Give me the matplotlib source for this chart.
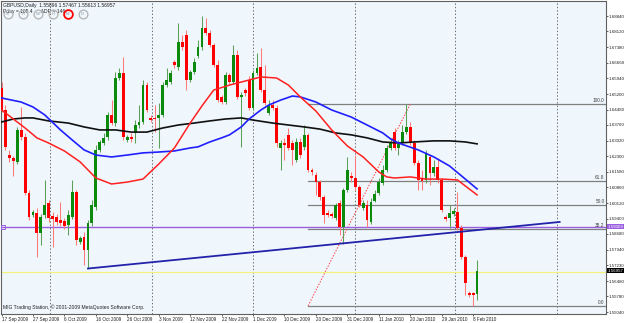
import numpy as np
import matplotlib
matplotlib.use("Agg")
import matplotlib.pyplot as plt
import matplotlib.transforms as mtransforms

# GBPUSD daily, one bar per entry (bar index 0 = 17 Sep 2009)
opens = [1.6548, 1.6446, 1.6236, 1.6222, 1.6204, 1.6353, 1.6320, 1.6059, 1.5957, 1.5966,
         1.5873, 1.5957, 1.6013, 1.5952, 1.5947, 1.5933, 1.5929, 1.5910, 1.5947, 1.6064,
         1.5831, 1.5854, 1.5794, 1.5919, 1.5994, 1.6260, 1.6292, 1.6320, 1.6423, 1.6385,
         1.6595, 1.6618, 1.6306, 1.6320, 1.6339, 1.6376, 1.6390, 1.6562, 1.6409, 1.6409,
         1.6409, 1.6423, 1.6562, 1.6576, 1.6670, 1.6646, 1.6763, 1.6796, 1.6586, 1.6623,
         1.6698, 1.6740, 1.6828, 1.6805, 1.6749, 1.6656, 1.6507, 1.6483, 1.6609, 1.6576,
         1.6702, 1.6507, 1.6539, 1.6586, 1.6455, 1.6618, 1.6646, 1.6539, 1.6432, 1.6469,
         1.6455, 1.6269, 1.6292, 1.6330, 1.6292, 1.6213, 1.6297, 1.6274, 1.6330, 1.6166,
         1.6143, 1.6110, 1.6041, 1.5966, 1.5961, 1.5943, 1.6013, 1.5901, 1.6073, 1.6138,
         1.6129, 1.6087, 1.5989, 1.6003, 1.5924, 1.6022, 1.6059, 1.6106, 1.6166, 1.6269,
         1.6343, 1.6269, 1.6292, 1.6343, 1.6367, 1.6292, 1.6199, 1.6129, 1.6120, 1.6227,
         1.6152, 1.6180, 1.6120, 1.5947, 1.5943, 1.5961, 1.5971, 1.5896, 1.5761, 1.5593,
         1.5593, 1.55896]
highs = [1.6576, 1.6469, 1.6260, 1.6232, 1.6367, 1.6460, 1.6339, 1.6073, 1.5980, 1.5989,
         1.5961, 1.6120, 1.6027, 1.5971, 1.5961, 1.6017, 1.5943, 1.5980, 1.6120, 1.6073,
         1.5859, 1.5878, 1.5933, 1.6027, 1.6283, 1.6306, 1.6339, 1.6437, 1.6492, 1.6623,
         1.6642, 1.6693, 1.6330, 1.6339, 1.6399, 1.6469, 1.6586, 1.6576, 1.6423, 1.6469,
         1.6479, 1.6576, 1.6642, 1.6632, 1.6679, 1.6851, 1.6796, 1.6819, 1.6632, 1.6688,
         1.6772, 1.6884, 1.6875, 1.6819, 1.6758, 1.6679, 1.6516, 1.6623, 1.6618, 1.6749,
         1.6726, 1.6530, 1.6548, 1.6604, 1.6632, 1.6712, 1.6735, 1.6656, 1.6492, 1.6492,
         1.6469, 1.6306, 1.6316, 1.6362, 1.6306, 1.6316, 1.6316, 1.6376, 1.6339, 1.6176,
         1.6157, 1.6120, 1.6050, 1.5980, 1.5971, 1.6013, 1.6027, 1.6083, 1.6227, 1.6157,
         1.6236, 1.6097, 1.6027, 1.6027, 1.6036, 1.6073, 1.6129, 1.6190, 1.6283, 1.6316,
         1.6362, 1.6306, 1.6376, 1.6474, 1.6390, 1.6306, 1.6213, 1.6166, 1.6260, 1.6236,
         1.6213, 1.6222, 1.6129, 1.5957, 1.6003, 1.5989, 1.6064, 1.5910, 1.5770, 1.5603,
         1.5598, 1.57467]
lows = [1.6437, 1.6260, 1.6204, 1.6138, 1.6194, 1.6306, 1.6050, 1.5933, 1.5947, 1.5761,
        1.5817, 1.5943, 1.5924, 1.5808, 1.5910, 1.5905, 1.5892, 1.5864, 1.5938, 1.5817,
        1.5822, 1.5724, 1.5710, 1.5905, 1.5980, 1.6250, 1.6283, 1.6306, 1.6376, 1.6371,
        1.6586, 1.6306, 1.6297, 1.6297, 1.6292, 1.6362, 1.6381, 1.6437, 1.6390, 1.6343,
        1.6269, 1.6413, 1.6553, 1.6567, 1.6642, 1.6632, 1.6726, 1.6539, 1.6576, 1.6614,
        1.6688, 1.6726, 1.6796, 1.6740, 1.6646, 1.6483, 1.6474, 1.6474, 1.6567, 1.6567,
        1.6497, 1.6274, 1.6511, 1.6446, 1.6446, 1.6609, 1.6530, 1.6469, 1.6423, 1.6446,
        1.6274, 1.6166, 1.6213, 1.6260, 1.6190, 1.6204, 1.6222, 1.6260, 1.6157, 1.6143,
        1.6050, 1.6027, 1.5919, 1.5947, 1.5943, 1.5933, 1.5864, 1.5822, 1.6064, 1.6110,
        1.6073, 1.5994, 1.5980, 1.5901, 1.5915, 1.6017, 1.6050, 1.6097, 1.6157, 1.6260,
        1.6260, 1.6236, 1.6283, 1.6334, 1.6283, 1.6190, 1.6073, 1.6073, 1.6106, 1.6097,
        1.6138, 1.6106, 1.5971, 1.5929, 1.5896, 1.5952, 1.5887, 1.5752, 1.5584, 1.5575,
        1.5533, 1.55613]
closes = [1.6446, 1.6274, 1.6222, 1.6208, 1.6353, 1.6320, 1.6059, 1.5947, 1.5971, 1.5873,
          1.5947, 1.6003, 1.5943, 1.5938, 1.5924, 1.5919, 1.5905, 1.5957, 1.6064, 1.5840,
          1.5850, 1.5794, 1.5919, 1.6003, 1.6260, 1.6297, 1.6316, 1.6423, 1.6385, 1.6595,
          1.6618, 1.6320, 1.6320, 1.6311, 1.6376, 1.6390, 1.6562, 1.6446, 1.6399, 1.6404,
          1.6423, 1.6562, 1.6586, 1.6618, 1.6656, 1.6763, 1.6740, 1.6586, 1.6623, 1.6670,
          1.6740, 1.6828, 1.6805, 1.6749, 1.6656, 1.6492, 1.6483, 1.6609, 1.6576, 1.6702,
          1.6507, 1.6516, 1.6525, 1.6455, 1.6618, 1.6642, 1.6539, 1.6479, 1.6469, 1.6455,
          1.6292, 1.6292, 1.6283, 1.6269, 1.6260, 1.6297, 1.6236, 1.6330, 1.6166, 1.6157,
          1.6110, 1.6041, 1.5957, 1.5957, 1.5952, 1.6003, 1.5901, 1.6073, 1.6166, 1.6129,
          1.6087, 1.6003, 1.6013, 1.5933, 1.6017, 1.6055, 1.6110, 1.6166, 1.6269, 1.6297,
          1.6269, 1.6288, 1.6343, 1.6367, 1.6292, 1.6199, 1.6120, 1.6115, 1.6246, 1.6152,
          1.6180, 1.6120, 1.5980, 1.5938, 1.5966, 1.5975, 1.5896, 1.5761, 1.5640, 1.5584,
          1.5584, 1.56957]

ma_fast_idx = [0, 3, 6, 9, 12, 16, 20, 24, 28, 32, 36, 40, 44, 48, 51, 54, 58, 62, 66, 70,
               73, 76, 80, 84, 88, 92, 96, 98, 100, 104, 108, 112, 116, 118, 121]
ma_fast = [1.6446, 1.6404, 1.6362, 1.6316, 1.6292, 1.6255, 1.6204, 1.6129, 1.6101, 1.6110,
           1.6124, 1.6194, 1.6269, 1.6385, 1.6465, 1.6539, 1.6562, 1.6581, 1.6600, 1.6595,
           1.6562, 1.6507, 1.6441, 1.6353, 1.6278, 1.6227, 1.6157, 1.6134, 1.6129, 1.6134,
           1.6124, 1.6124, 1.6120, 1.6092, 1.6050]
ma_mid_idx = [0, 5, 8, 11, 15, 18, 21, 24, 28, 32, 36, 40, 44, 48, 50, 53, 56, 58, 61, 63,
              66, 68, 71, 74, 76, 80, 84, 89, 93, 97, 99, 101, 106, 110, 114, 118, 121]
ma_mid = [1.6502, 1.6483, 1.6460, 1.6423, 1.6353, 1.6306, 1.6260, 1.6236, 1.6227, 1.6236,
          1.6246, 1.6250, 1.6255, 1.6269, 1.6274, 1.6297, 1.6316, 1.6330, 1.6367, 1.6404,
          1.6446, 1.6469, 1.6492, 1.6511, 1.6507, 1.6483, 1.6446, 1.6413, 1.6376, 1.6339,
          1.6311, 1.6292, 1.6260, 1.6227, 1.6185, 1.6124, 1.6078]
ma_slow_idx = [0, 3, 6, 8, 12, 17, 21, 25, 29, 33, 37, 41, 45, 49, 53, 57, 61, 64, 69, 73,
               77, 81, 85, 89, 93, 97, 101, 105, 110, 114, 118, 121]
ma_slow = [1.6390, 1.6404, 1.6409, 1.6409, 1.6395, 1.6385, 1.6367, 1.6353, 1.6353, 1.6343,
           1.6343, 1.6362, 1.6376, 1.6385, 1.6395, 1.6404, 1.6409, 1.6399, 1.6385, 1.6376,
           1.6367, 1.6357, 1.6339, 1.6330, 1.6316, 1.6297, 1.6292, 1.6297, 1.6302, 1.6302,
           1.6297, 1.6288]

date_idx = list(range(0, 121, 8))
date_labels = ["17 Sep 2009", "27 Sep 2009", "6 Oct 2009", "16 Oct 2009", "26 Oct 2009",
               "3 Nov 2009", "12 Nov 2009", "22 Nov 2009", "1 Dec 2009", "10 Dec 2009",
               "20 Dec 2009", "31 Dec 2009", "11 Jan 2010", "20 Jan 2010", "29 Jan 2010",
               "8 Feb 2010"]
price_ticks = [1.68840, 1.68120, 1.67380, 1.66660, 1.65940, 1.65200, 1.64480, 1.63760,
               1.63020, 1.62300, 1.61580, 1.60860, 1.60120, 1.59400, 1.58680, 1.57940,
               1.57230, 1.56480, 1.55780, 1.55040]

# drawn objects
trend_idx = [22, 142]
trend_px = [1.5707, 1.5924]
fib_idx = [78, 104]
fib_px = [1.5533, 1.6474]
fib_levels = [0.0, 38.2, 50.0, 61.8, 100.0]
hline_purple = 1.5901
hline_yellow = 1.5690
grid_x = [12.3, 38.2, 64.0, 90.0, 115.4, 141.3]

bg = '#f0f7fc'
lab_font = 'Liberation Sans'
fig = plt.figure(figsize=(6.25, 3.23), dpi=100)
fig.patch.set_facecolor('white')
ax = fig.add_axes([1 / 625, 9 / 323, 605 / 625, 313 / 323])
ax.set_facecolor(bg)
ax.set_xlim(-0.13, 153.8)
ax.set_ylim(1.5495, 1.6954)

for gx in grid_x:
    ax.axvline(gx, color='#707070', lw=0.7, ls=(0, (1.5, 2)), zorder=1)

# fib retracement
lo, hi = fib_px
for lev in fib_levels:
    p = lo + (hi - lo) * lev / 100
    ax.plot([fib_idx[0], 155], [p, p], color='#808080', lw=0.9, zorder=2)
    ax.text(153.4, p + 0.0003, f"{lev:.1f}", fontsize=3.4, ha='right', va='bottom',
            color='#404040', family=lab_font, zorder=6)
ax.plot(fib_idx, fib_px, color='#ff4040', lw=0.7, ls=(0, (1.5, 1.5)), zorder=2)

ax.axhline(hline_yellow, color='#f2f27a', lw=0.9, zorder=2)
ax.axhline(hline_purple, color='#9a5fe0', lw=1.0, zorder=2)
ax.plot([0.3], [hline_purple], marker='s', ms=2.5, mfc='none', mec='#9a5fe0', mew=0.7,
        zorder=3)

# candles
idx = np.arange(len(opens))
o = np.array(opens)
c = np.array(closes)
up = c >= o
wick_col = np.where(up, '#5aa05a', '#ff7a7a')
ax.vlines(idx, lows, highs, colors=wick_col, lw=0.75, zorder=3)
body_lo = np.minimum(o, c)
body_h = np.maximum(np.abs(c - o), 0.00035)
ax.bar(idx, body_h, bottom=body_lo, width=0.72,
       color=np.where(up, '#0b8a0b', '#ff0000'), lw=0, zorder=4)

ax.plot(ma_slow_idx, ma_slow, color='#101010', lw=1.2, zorder=5)
ax.plot(ma_mid_idx, ma_mid, color='#1f1fff', lw=1.2, zorder=5)
ax.plot(ma_fast_idx, ma_fast, color='#ff2020', lw=1.1, zorder=5)
ax.plot(trend_idx, trend_px, color='#2222aa', lw=1.3, zorder=5)

# axes
for s in ['top', 'bottom', 'left', 'right']:
    ax.spines[s].set_color('#606060')
    ax.spines[s].set_linewidth(0.8)
ax.yaxis.tick_right()
ax.set_yticks(price_ticks)
ax.set_yticklabels([f"{p:.5f}" for p in price_ticks], fontsize=3.2,
                   family=lab_font, color='#202020')
ax.tick_params(axis='y', length=1.2, width=0.5, pad=0.4, colors='#202020')
ax.set_xticks(date_idx)
ax.set_xticklabels(date_labels, fontsize=3.3, family=lab_font, color='#202020',
                   ha='left')
ax.tick_params(axis='x', length=1.5, width=0.5, pad=1, colors='#202020')

tr = mtransforms.blended_transform_factory(ax.transAxes, ax.transData)
ax.text(1.0025, hline_purple, "1.59009", transform=tr, fontsize=3.2, va='center', ha='left',
        family=lab_font, color='white', clip_on=False,
        bbox=dict(boxstyle='square,pad=0.12', fc='#9a5fe0', ec='none'))
ax.text(1.0025, closes[-1], f"{closes[-1]:.5f}", transform=tr, fontsize=3.2, va='center',
        ha='left', family=lab_font, color='white', clip_on=False,
        bbox=dict(boxstyle='square,pad=0.12', fc='black', ec='none'))

# header text
ax.text(0.004, 0.995, f"GBPUSD,Daily  {opens[-1]:.5f} {highs[-1]:.5f} {lows[-1]:.5f} {closes[-1]:.5f}",
        transform=ax.transAxes, fontsize=3.6, va='top', family=lab_font, color='#202020')
ax.text(0.004, 0.975, "Pday = 165.4      ADR = 146", transform=ax.transAxes, fontsize=3.6,
        va='top', family=lab_font, color='#202020')
buttons = ["S", "R", "W", "H", "M", "D"]
for k, b in enumerate(buttons):
    xb = 0.011 + k * 0.0248
    ec = '#ff0000' if b == "M" else '#b8b8b8'
    ax.plot([xb], [0.957], transform=ax.transAxes, marker='o', ms=6.3, mfc='none', mec=ec,
            mew=1.3 if b == "M" else 1.0, zorder=7)
    ax.text(xb, 0.957, b, transform=ax.transAxes, fontsize=3.0, ha='center', va='center',
            color='#8090a0', family=lab_font, zorder=7)
ax.text(0.004, 0.012, "MIG Trading Station, \u00a9 2001-2009 MetaQuotes Software Corp.",
        transform=ax.transAxes, fontsize=3.6, va='bottom', family=lab_font,
        color='#202020')

fig.savefig("out.png", dpi=100, facecolor='white')
